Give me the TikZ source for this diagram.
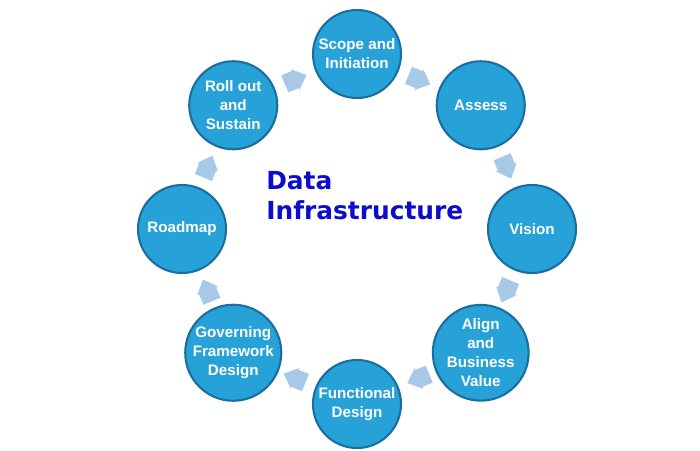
\documentclass[tikz,border=0pt]{standalone}
\usepackage{fontspec}
\setmainfont{Liberation Sans}
\newfontfamily\titlefont{DejaVu Sans}
\usetikzlibrary{calc}
\definecolor{ringblue}{HTML}{27A2D9}
\definecolor{ringedge}{HTML}{1A6FA0}
\definecolor{flowblue}{HTML}{A7C9E7}
\definecolor{titleblue}{HTML}{0C0CCF}

\begin{document}
\begin{tikzpicture}[
  stage/.style={circle, minimum size=2.2cm, inner sep=0pt, align=center,
                fill=ringblue, draw=ringedge, line width=1.5pt, text=white,
                font=\bfseries\fontsize{10.8}{13.5}\selectfont},
  cyclearrow/.style={fill=flowblue, draw=none}
]
\useasboundingbox (-8.925,-5.525) rectangle (8.575,5.725);

% stages on the ring
\node[stage] (scope)   at (90:4.375)  {Scope and\\Initiation};
\node[stage] (assess)  at (45:4.375)  {Assess};
\node[stage] (vision)  at (0:4.375)   {Vision};
\node[stage] (align)   at (-45:4.375) {Align\\and\\Business\\Value};
\node[stage] (func)    at (-90:4.375) {Functional\\Design};
\node[stage] (govern)  at (-135:4.375) {Governing\\Framework\\Design};
\node[stage] (roadmap) at (180:4.375) {Roadmap};
\node[stage] (rollout) at (135:4.375) {Roll out\\and\\Sustain};

% block arrows between stages
\foreach \from/\to/\dir in {scope/assess/-22.5, assess/vision/-67.5,
    vision/align/-112.5, align/func/-157.5, func/govern/157.5,
    govern/roadmap/112.5, roadmap/rollout/67.5, rollout/scope/22.5}
  \fill[cyclearrow, shift={($(\from)!0.5!(\to)$)}, rotate=\dir]
    (-0.28,-0.23) -- (0.0,-0.23) -- (0.0,-0.28) -- (0.31,0)
    -- (0.0,0.28) -- (0.0,0.23) -- (-0.28,0.23) -- cycle;

% title
\node[anchor=west, align=left, inner sep=0pt, text=titleblue,
      font=\titlefont\bfseries\fontsize{17.7}{21.3}\selectfont] (title) at (-2.275,0.825)
  {Data\\Infrastructure};

\end{tikzpicture}
\end{document}
